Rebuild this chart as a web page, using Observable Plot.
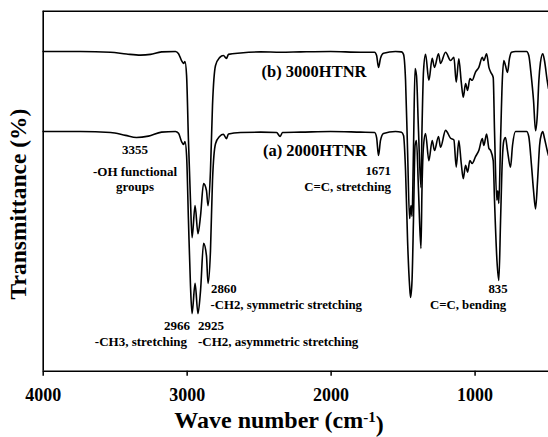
<!DOCTYPE html>
<html><head><meta charset="utf-8">
<script src="https://cdn.jsdelivr.net/npm/d3@7"></script>
<script src="https://cdn.jsdelivr.net/npm/@observablehq/plot@0.6"></script>
<style>
html,body{margin:0;padding:0;background:#fff;}
#chart svg{display:block;}
</style></head><body><div id="chart"></div>
<script>
// Trace (b) 3000HTNR : wavenumber (cm-1) and transmittance (arbitrary %)
const wnB = [4000,3741,3532,3421,3324,3255,3178,3081,3060,3039,3025,3015,3004,2991,2977,2966,2945,2925,2907,2886,2866,2855,2838,2824,2803,2775,2748,2727,2713,2629,2490,2351,2212,2004,1795,1698,1684,1671,1657,1636,1553,1511,1497,1483,1469,1455,1445,1438,1428,1417,1407,1393,1376,1369,1358,1344,1321,1298,1282,1254,1240,1205,1170,1147,1131,1113,1096,1082,1066,1052,1036,1020,997,974,950,939,920,904,892,874,865,849,842,835,823,811,800,789,775,761,747,719,642,627,610,594,580,568,557,546,530,518,499,490];
const tB  = [88.8,88.8,88.6,88.1,87.8,88.0,88.7,88.8,88.2,86.3,85.5,86.0,82.1,64.1,47.4,37.1,46.0,38.2,43.2,52.1,50.2,46.0,55.7,73.8,84.9,87.1,87.7,86.9,88.0,88.4,88.7,88.6,88.7,88.8,88.6,88.6,87.7,84.4,86.9,88.3,88.8,88.7,88.0,80.8,61.3,42.4,46.0,43.0,61.3,84.1,82.1,66.8,51.0,66.8,83.5,88.0,80.8,86.9,84.4,88.2,85.5,88.6,86.3,87.2,80.3,86.8,80.3,76.1,79.9,78.0,81.3,80.8,83.1,84.4,87.2,86.3,88.2,84.4,83.1,81.6,66.8,47.5,50.1,46.6,64.1,80.7,86.3,84.9,83.0,86.9,88.6,88.8,88.8,87.7,82.1,75.2,66.8,71.0,80.7,85.7,88.2,86.3,80.7,78.5];

// Trace (a) 2000HTNR
const wnA = [4000,3741,3532,3428,3352,3269,3178,3081,3060,3039,3025,3015,3004,2991,2977,2966,2945,2925,2907,2886,2866,2855,2838,2824,2803,2775,2748,2727,2713,2629,2490,2379,2354,2338,2212,2004,1795,1698,1684,1671,1657,1636,1553,1511,1497,1483,1469,1455,1448,1438,1428,1417,1407,1393,1376,1369,1358,1344,1321,1298,1282,1254,1240,1205,1170,1147,1131,1113,1096,1082,1066,1052,1036,1020,997,974,950,939,920,904,892,874,865,848,835,823,811,800,789,775,754,740,719,642,627,608,594,580,566,552,538,530,518,499,490];
const tA  = [66.6,66.6,66.3,65.5,64.9,65.3,66.4,66.6,66.1,63.8,63.0,63.8,59.9,41.9,23.8,16.0,24.4,16.0,22.4,35.5,32.1,24.4,33.5,53.0,63.2,65.2,65.8,64.6,65.9,66.3,66.4,66.3,65.2,66.3,66.4,66.6,66.4,66.3,64.9,59.9,64.1,66.0,66.6,66.4,65.5,55.7,36.3,23.8,20.5,25.2,41.9,62.7,64.1,50.2,34.1,50.2,62.7,66.0,58.5,64.1,61.3,65.2,62.2,66.9,64.7,64.2,56.7,64.1,57.7,53.5,57.2,55.3,58.5,57.7,59.6,61.3,64.6,62.7,65.9,61.9,61.3,58.5,47.4,30.7,25.2,41.9,58.5,64.1,64.9,61.3,56.7,62.7,66.6,66.6,65.2,57.1,50.2,45.1,52.9,62.7,66.0,66.6,64.7,61.3,59.9];

const xTicks = [4000, 3000, 2000, 1000];

// Annotations
const annText   = ["(b) 3000HTNR","(a) 2000HTNR","3355","-OH functional","groups","1671","C=C, stretching","2860","-CH2, symmetric stretching","2966","2925","-CH3, stretching","-CH2, asymmetric stretching","835","C=C, bending"];
const annWn     = [2119,2112,3362,3362,3362,1584,1584,2834,2838,3070,2834,3321,2925,841,1049];
const annT      = [83.1,61.3,61.6,55.5,51.1,55.7,51.3,22.9,18.4,12.7,12.7,8.1,8.1,22.9,18.4];
const annAnchor = ["middle","middle","middle","middle","middle","end","end","start","start","middle","middle","middle","start","middle","middle"];
const annSize   = [16.5,16.5,13,13,13,12.8,12.8,12.8,12.8,13,13,13,13,12.8,12.8];

const xTitle = "Wave number (cm";
const xTitleSup = "-1";
const yTitle = "Transmittance (%)";

const FONT = "'Liberation Serif','Times New Roman',serif";
const W = 548, H = 437;

const ann = annText.map((t,i)=>({t, x: annWn[i], y: annT[i], a: annAnchor[i], s: annSize[i]}));

const chart = Plot.plot({
  width: W, height: H,
  marginLeft: 42.7, marginRight: 0, marginTop: 10.7, marginBottom: 66.3,
  style: {fontFamily: FONT, background: "#fff", color: "#000", overflow: "hidden"},
  x: {domain: [4000, 490], ticks: xTicks},
  y: {domain: [0, 100]},
  marks: [
    Plot.ruleX([4000], {stroke: "#000", strokeWidth: 1.6}),
    Plot.ruleY([0, 100], {stroke: "#000", strokeWidth: 1.6}),
    Plot.axisX({ticks: xTicks, tickSize: 5, tickPadding: 12, tickFormat: d => String(d), fontSize: 18, fontWeight: "bold", label: null, stroke: "#000", strokeWidth: 1.5, fill: "#000"}),
    Plot.axisY({ticks: [], label: null}),
    Plot.line(wnB, {x: wnB, y: tB, stroke: "#000", strokeWidth: 1.6, curve: "monotone-x"}),
    Plot.line(wnA, {x: wnA, y: tA, stroke: "#000", strokeWidth: 1.6, curve: "monotone-x"}),
    ...ann.map(d => Plot.text([d], {x: "x", y: "y", text: "t", textAnchor: d.a, fontSize: d.s, fontWeight: "bold", fill: "#000"}))
  ]
});

const svg = d3.select(chart);
// x-axis title with superscript
const xt = svg.append("text")
  .attr("x", 279).attr("y", 420).attr("dy", "0.35em")
  .attr("text-anchor", "middle")
  .style("font-family", FONT).style("font-size", "24px").style("font-weight", "bold").attr("fill", "#000");
xt.append("tspan").text(xTitle);
xt.append("tspan").attr("dy", "-0.45em").style("font-size", "15px").text(xTitleSup);
xt.append("tspan").attr("dy", "0.45em").text(")");
// y-axis title
svg.append("text")
  .attr("transform", "translate(18,204) rotate(-90)")
  .attr("dy", "0.35em")
  .attr("text-anchor", "middle")
  .style("font-family", FONT).style("font-size", "23.5px").style("font-weight", "bold").attr("fill", "#000")
  .text(yTitle);

document.getElementById("chart").appendChild(chart);
</script></body></html>
